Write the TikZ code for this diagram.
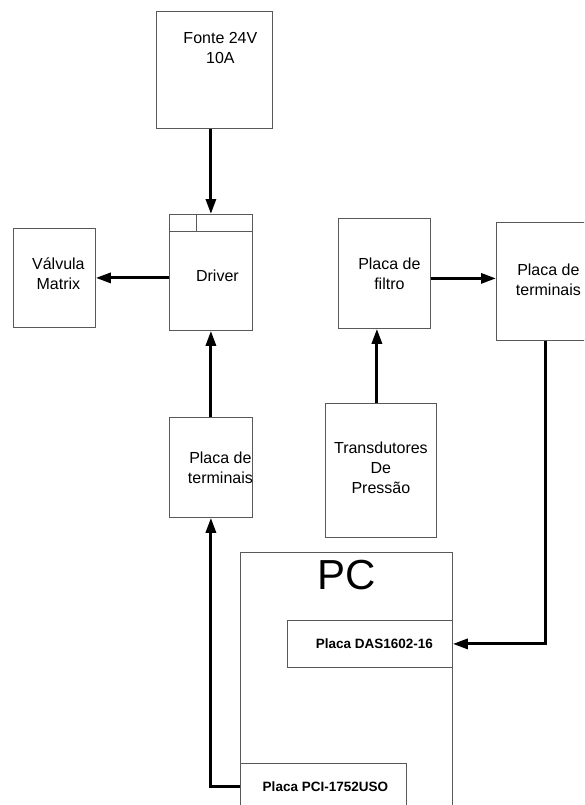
\documentclass[tikz,border=0pt]{standalone}
\usepackage{fontspec}
\setmainfont{Liberation Sans}
\usetikzlibrary{arrows.meta}

\begin{document}
\begin{tikzpicture}[x=1pt, y=-1pt,
    box/.style={draw=black!65, line width=0.8pt, anchor=north west, inner sep=0pt},
    lbl/.style={align=center, inner sep=0pt, font=\fontsize{16}{20}\selectfont},
    bold/.style={inner sep=0pt, font=\fontsize{13.5}{15}\selectfont\bfseries},
    sig/.style={-{Triangle[length=15pt, width=10pt]}, line width=3pt}]
        \clip (0,0) rectangle (584,805);

        % Power supply and driver
        \node[box, minimum width=116pt, minimum height=117pt,
              label={[lbl, xshift=6pt, yshift=21.5pt]center:Fonte 24V\\10A}] (fonte) at (156,11) {};
        \node[box, minimum width=83pt, minimum height=116pt,
              label={[lbl, xshift=6.5pt, yshift=-3pt]center:Driver}] (driver) at (169,214) {};
        \draw[draw=black!65, line width=0.8pt] ([yshift=-17pt]driver.north west) -- ([yshift=-17pt]driver.north east);
        \draw[draw=black!65, line width=0.8pt] ([xshift=27pt]driver.north west) -- ([xshift=27pt, yshift=-17pt]driver.north west);
        \node[box, minimum width=82pt, minimum height=99pt,
              label={[lbl, xshift=4pt, yshift=4.5pt]center:Válvula\\Matrix}] (valvula) at (13,228) {};
        \node[box, minimum width=83pt, minimum height=100pt,
              label={[lbl, xshift=9.5pt]center:Placa de\\terminais}] (lterm) at (169,417) {};

        % Pressure measurement
        \node[box, minimum width=92pt, minimum height=110pt,
              label={[lbl, xshift=5pt]center:Placa de\\filtro}] (filtro) at (338,218) {};
        \node[box, minimum width=98pt, minimum height=118pt,
              label={[lbl, xshift=3pt, yshift=2pt]center:Placa de\\terminais}] (rterm) at (496,222) {};
        \node[box, minimum width=111pt, minimum height=134pt,
              label={[lbl, yshift=3pt]center:Transdutores\\De\\Pressão}] (trans) at (325,403) {};

        % PC with boards
        \node[box, minimum width=212pt, minimum height=270pt,
              label={[inner sep=0pt, anchor=north, yshift=-8pt, font=\fontsize{42}{42}\selectfont]north:PC}] (pc) at (240,552) {};
        \node[box, minimum width=165pt, minimum height=47pt,
              label={[bold, xshift=4.5pt]center:Placa DAS1602-16}] (das) at (287,620) {};
        \node[box, minimum width=166pt, minimum height=47pt,
              label={[bold, xshift=2pt]center:Placa PCI-1752USO}] (pci) at (240,763) {};

        % Signals
        \draw[sig] (fonte.south -| driver.north) -- (driver.north);
        \draw[sig] (driver.west |- valvula.east) -- (valvula.east);
        \draw[sig] (lterm.north) -- (driver.south);
        \draw[sig] ([yshift=-5pt]filtro.east) -- ([yshift=-5pt]filtro.east -| rterm.west);
        \draw[sig] ([xshift=-4pt]trans.north) -- ([xshift=-4pt]trans.north |- filtro.south);
        \draw[sig] (rterm.south) |- (das.east);
        \draw[sig] (pci.west) -| (lterm.south);
    \end{tikzpicture}
\end{document}
